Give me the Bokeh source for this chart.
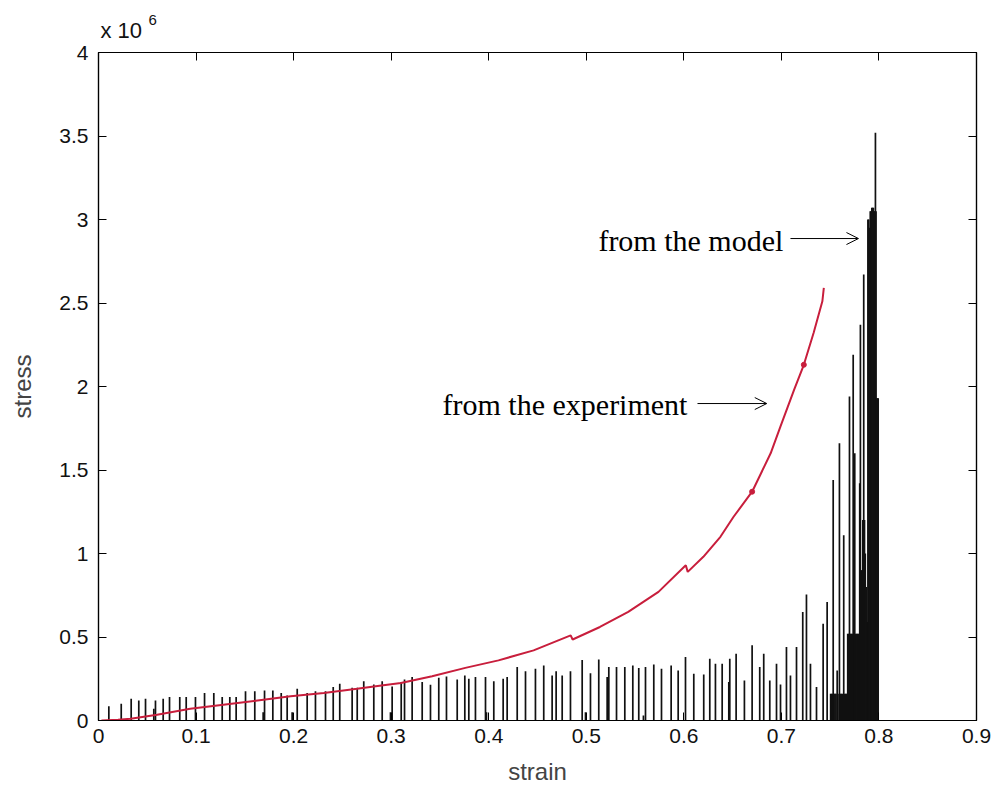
from bokeh.plotting import figure
from bokeh.models import (Range1d, FixedTicker, LinearAxis, Label, Arrow, OpenHead,
                          CustomJSTickFormatter, ColumnDataSource)
from bokeh.embed import file_html
from bokeh.resources import INLINE

# ---------------- data (stress in units of 10^6) ----------------
x_ticks = [0, 0.1, 0.2, 0.3, 0.4, 0.5, 0.6, 0.7, 0.8, 0.9]
x_tick_labels = ["0", "0.1", "0.2", "0.3", "0.4", "0.5", "0.6", "0.7", "0.8", "0.9"]
y_ticks = [0, 0.5, 1, 1.5, 2, 2.5, 3, 3.5, 4]
y_tick_labels = ["0", "0.5", "1", "1.5", "2", "2.5", "3", "3.5", "4"]

# experiment (red curve)
exp_strain = [0.003, 0.02, 0.033, 0.06, 0.094, 0.128, 0.163, 0.197, 0.231, 0.265,
              0.29, 0.31, 0.342, 0.376, 0.41, 0.446, 0.484, 0.486, 0.514, 0.543,
              0.574, 0.602, 0.604, 0.62, 0.6375, 0.651, 0.670, 0.689, 0.699,
              0.713, 0.723, 0.733, 0.742, 0.7435]
exp_stress = [0.0, 0.005, 0.01, 0.035, 0.07, 0.095, 0.12, 0.145, 0.165, 0.19,
              0.21, 0.225, 0.265, 0.315, 0.36, 0.42, 0.51, 0.485, 0.56, 0.65,
              0.77, 0.93, 0.89, 0.98, 1.10, 1.22, 1.37, 1.60, 1.76,
              1.98, 2.13, 2.32, 2.51, 2.59]
exp_dot_strain = [0.670, 0.723]
exp_dot_stress = [1.37, 2.13]

# model (oscillating spikes)
model_strain = [0.0106, 0.0233, 0.0335, 0.0413, 0.0482, 0.0567, 0.0584, 0.0663, 0.0728, 0.0833,
                0.0899, 0.0994, 0.1087, 0.1182, 0.1268, 0.1346, 0.1411, 0.1507, 0.1602, 0.1688,
                0.1702, 0.1787, 0.1873, 0.1934, 0.1985, 0.2037, 0.2139, 0.2224, 0.2327, 0.2406,
                0.2473, 0.2600, 0.2652, 0.2719, 0.2822, 0.2908, 0.2993, 0.3010, 0.3103, 0.3137,
                0.3215, 0.3318, 0.3403, 0.3488, 0.3567, 0.3677, 0.3755, 0.3796, 0.3864, 0.3967,
                0.3977, 0.4052, 0.4148, 0.4189, 0.4292, 0.4377, 0.4479, 0.4564, 0.4650, 0.4691,
                0.4753, 0.4838, 0.4958, 0.4992, 0.5043, 0.5128, 0.5214, 0.5231, 0.5310, 0.5395,
                0.5477, 0.5538, 0.5586, 0.5607, 0.5692, 0.5771, 0.5870, 0.5942, 0.6017, 0.6102,
                0.6204, 0.6266, 0.6324, 0.6393, 0.6461, 0.6471, 0.6536, 0.6621, 0.6700, 0.6778,
                0.6819, 0.6881, 0.6950, 0.6991, 0.7052, 0.7093, 0.7155, 0.7219, 0.7257, 0.7298,
                0.7360, 0.7428, 0.7469,
                0.7505, 0.7515, 0.7525, 0.7531, 0.7540, 0.7550, 0.7560, 0.7572, 0.7580, 0.7595,
                0.7605, 0.7615, 0.7625, 0.7639, 0.7650, 0.7660, 0.7670, 0.7680, 0.7690, 0.7698,
                0.7707, 0.7717, 0.7727, 0.7736, 0.7745, 0.7752, 0.7762, 0.7772, 0.7782, 0.7792,
                0.7803, 0.7810, 0.7818, 0.7826, 0.7835, 0.7844, 0.7852, 0.7860, 0.7870, 0.7879,
                0.7887, 0.7895, 0.7903, 0.7911, 0.7919, 0.7927, 0.7935, 0.7943, 0.7951, 0.7959,
                0.7964, 0.7970, 0.7978, 0.7986, 0.7992]
model_stress = [0.086, 0.10, 0.13, 0.12, 0.13, 0.07, 0.12, 0.13, 0.14, 0.14,
                0.14, 0.14, 0.164, 0.164, 0.14, 0.14, 0.14, 0.175, 0.175, 0.05,
                0.18, 0.18, 0.164, 0.15, 0.05, 0.19, 0.164, 0.175, 0.175, 0.20,
                0.22, 0.196, 0.196, 0.235, 0.215, 0.235, 0.05, 0.204, 0.23, 0.246,
                0.26, 0.23, 0.214, 0.256, 0.263, 0.246, 0.27, 0.25, 0.26, 0.26,
                0.05, 0.235, 0.25, 0.26, 0.32, 0.295, 0.31, 0.33, 0.27, 0.295,
                0.27, 0.295, 0.363, 0.05, 0.283, 0.365, 0.26, 0.32, 0.32, 0.32,
                0.33, 0.315, 0.03, 0.32, 0.335, 0.31, 0.33, 0.30, 0.38, 0.28,
                0.275, 0.37, 0.34, 0.34, 0.23, 0.37, 0.40, 0.24, 0.45, 0.32,
                0.40, 0.24, 0.34, 0.215, 0.44, 0.27, 0.44, 0.65, 0.755, 0.34,
                0.20, 0.58, 0.71,
                0.16, 0.16, 0.16, 1.44, 0.16, 0.16, 0.16, 0.30, 0.16, 1.66,
                0.16, 0.16, 0.16, 1.11, 0.16, 0.16, 0.16, 0.52, 0.52, 1.94,
                0.52, 0.52, 0.52, 2.19, 0.52, 1.60, 0.52, 0.52, 0.52, 0.52,
                1.42, 2.37, 0.90, 0.90, 1.20, 2.67, 1.20, 1.00, 0.80, 0.59,
                3.00, 3.00, 2.95, 3.05, 3.05, 3.07, 3.07, 3.07, 3.05, 3.05,
                3.52, 3.05, 1.93, 1.93, 1.93]

# ---------------- figure ----------------
p = figure(frame_width=878, frame_height=668, x_range=Range1d(0, 0.9), y_range=Range1d(0, 4),
           output_backend="svg", toolbar_location=None,
           min_border_left=98, min_border_right=20, min_border_top=52, min_border_bottom=77)
p.background_fill_color = "white"
p.border_fill_color = "white"
p.xgrid.visible = False
p.ygrid.visible = False
p.outline_line_color = "black"
p.outline_line_width = 1.2

src_model = ColumnDataSource(dict(x=model_strain, y=model_stress))
p.segment(x0="x", y0=0, x1="x", y1="y", source=src_model, line_color="#111111", line_width=1.7)

p.line(exp_strain, exp_stress, line_color="#c81e3c", line_width=2)
p.scatter(exp_dot_strain, exp_dot_stress, size=5, color="#c81e3c")

tick_font = "Liberation Sans"

def style_axis(ax, labels):
    ax.axis_line_color = "black"
    ax.axis_line_width = 1.2
    ax.major_tick_line_color = "black"
    ax.major_tick_in = 8
    ax.major_tick_out = 0
    ax.minor_tick_line_color = None
    ax.major_label_text_font = tick_font
    ax.major_label_text_font_size = "21px"
    ax.major_label_text_color = "#111111"
    if not labels:
        ax.formatter = CustomJSTickFormatter(code="return ''")
        ax.major_label_standoff = 0
        ax.major_label_text_font_size = "1px"

xa = p.xaxis[0]
xa.ticker = FixedTicker(ticks=x_ticks)
xa.major_label_overrides = {t: s for t, s in zip(x_ticks, x_tick_labels)}
xa.major_label_standoff = 8
xa.axis_label = "strain"
xa.axis_label_text_font = tick_font
xa.axis_label_text_font_size = "24px"
xa.axis_label_text_font_style = "normal"
xa.axis_label_standoff = 12
style_axis(xa, True)

ya = p.yaxis[0]
ya.ticker = FixedTicker(ticks=y_ticks)
ya.major_label_overrides = {t: s for t, s in zip(y_ticks, y_tick_labels)}
ya.major_label_standoff = 10
ya.axis_label = "stress"
ya.axis_label_text_font = tick_font
ya.axis_label_text_font_size = "24px"
ya.axis_label_text_font_style = "normal"
ya.axis_label_standoff = 20
style_axis(ya, True)

top = LinearAxis(ticker=FixedTicker(ticks=x_ticks))
style_axis(top, False)
p.add_layout(top, "above")
right = LinearAxis(ticker=FixedTicker(ticks=y_ticks))
style_axis(right, False)
p.add_layout(right, "right")

# exponent label (placed in the panel above the frame)
p.add_layout(Label(x=2, y=22, x_units="screen", y_units="screen", text="x 10",
                   text_font=tick_font, text_font_size="22px", text_color="#111111",
                   text_baseline="alphabetic"), "above")
p.add_layout(Label(x=50, y=8, x_units="screen", y_units="screen", text="6",
                   text_font=tick_font, text_font_size="15px", text_color="#111111",
                   text_baseline="alphabetic"), "above")

# annotations
serif = "Liberation Serif"
p.add_layout(Label(x=0.702, y=2.874, text="from the model", text_font=serif,
                   text_font_size="30px", text_align="right", text_baseline="middle",
                   text_color="black"))
p.add_layout(Arrow(x_start=0.7093, y_start=2.886, x_end=0.7790, y_end=2.886,
                   line_width=1, line_color="black",
                   end=OpenHead(size=12, line_width=1, line_color="black")))
p.add_layout(Label(x=0.6037, y=1.892, text="from the experiment", text_font=serif,
                   text_font_size="30px", text_align="right", text_baseline="middle",
                   text_color="black"))
p.add_layout(Arrow(x_start=0.614, y_start=1.898, x_end=0.685, y_end=1.898,
                   line_width=1, line_color="black",
                   end=OpenHead(size=12, line_width=1, line_color="black")))

open("out.html", "w").write(file_html(p, INLINE))
